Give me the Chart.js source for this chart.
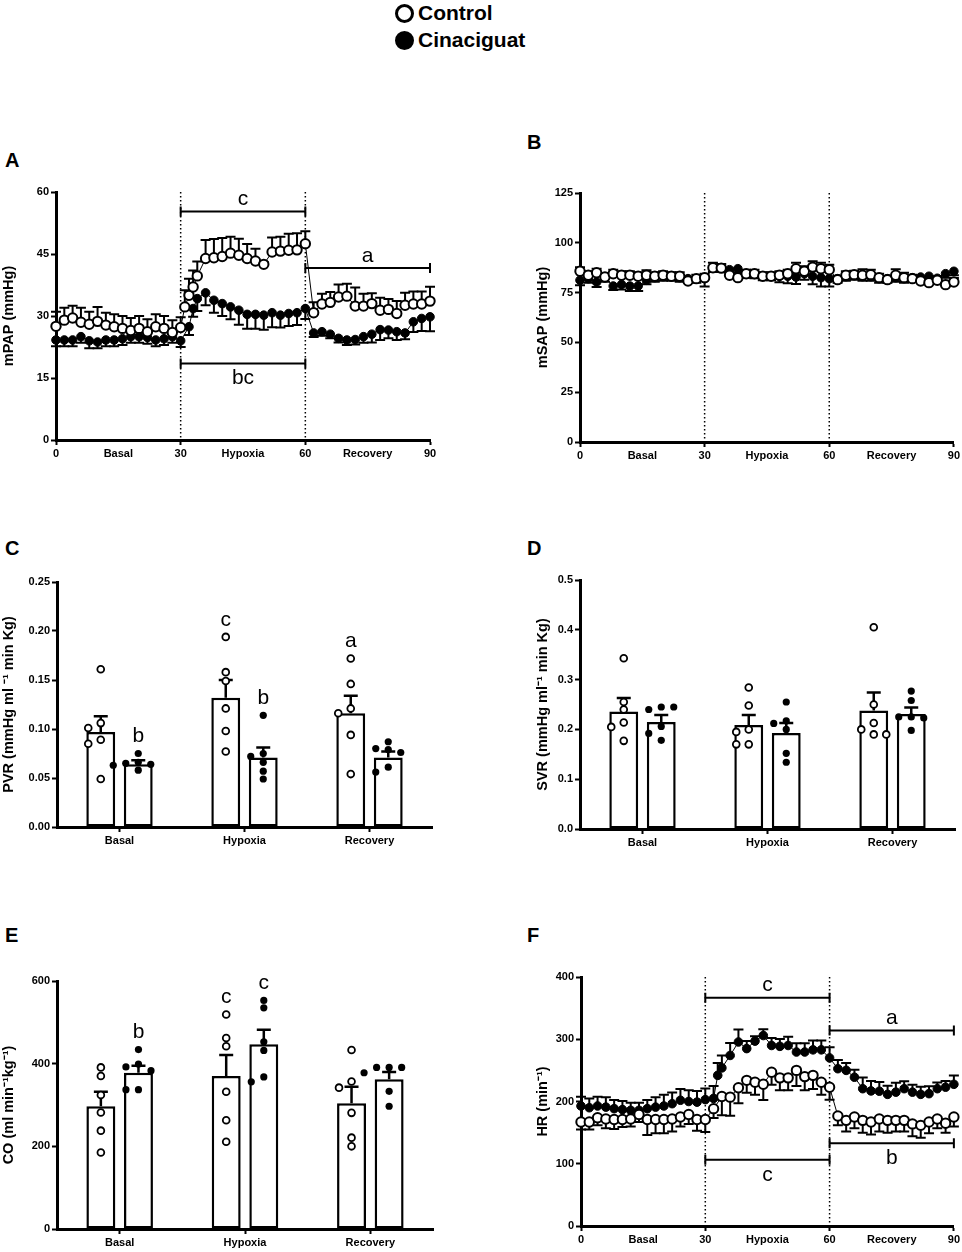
<!DOCTYPE html>
<html>
<head>
<meta charset="utf-8">
<script src="https://cdn.jsdelivr.net/npm/chart.js@4.4.0/dist/chart.umd.min.js"></script>
<style>
  body { margin: 0; width: 962px; height: 1252px; position: relative; background: #fff; overflow: hidden;
         font-family: Arial, "Liberation Sans", sans-serif; }
  canvas { position: absolute; }
  .panel { position: absolute; font-weight: bold; font-size: 20px; }
  .leg { position: absolute; left: 395px; height: 24px; display: flex; align-items: center;
         font-weight: bold; font-size: 21px; }
  .dot { width: 13px; height: 13px; border: 3px solid #000; border-radius: 50%; margin-right: 4px; }
</style>
</head>
<body>
<div class="leg" style="top:1px"><span class="dot"></span>Control</div>
<div class="leg" style="top:28px"><span class="dot" style="background:#000"></span>Cinaciguat</div>

<div class="panel" style="left:5px;top:149px">A</div>
<div class="panel" style="left:527px;top:131px">B</div>
<div class="panel" style="left:5px;top:537px">C</div>
<div class="panel" style="left:527px;top:537px">D</div>
<div class="panel" style="left:5px;top:924px">E</div>
<div class="panel" style="left:527px;top:924px">F</div>

<canvas id="chartA" width="460" height="290" style="left:0;top:180px"></canvas>
<canvas id="chartB" width="428" height="290" style="left:534px;top:180px"></canvas>
<canvas id="chartC" width="480" height="290" style="left:0;top:570px"></canvas>
<canvas id="chartD" width="428" height="290" style="left:534px;top:570px"></canvas>
<canvas id="chartE" width="480" height="292" style="left:0;top:960px"></canvas>
<canvas id="chartF" width="428" height="292" style="left:534px;top:960px"></canvas>

<script>
// ---- time course data (minutes) ----
const phaseTicks = [0, 15, 30, 45, 60, 75, 90];
const phaseLabels = ['0', 'Basal', '30', 'Hypoxia', '60', 'Recovery', '90'];

// A: mPAP
const timeA = [0,2,4,6,8,10,12,14,16,18,20,22,24,26,28,30,31,32,33,34,36,38,40,42,44,46,48,50,52,54,56,58,60,
               62,64,66,68,70,72,74,76,78,80,82,84,86,88,90];
const mpapCtrl = [27.5,29,29.5,28.5,28,28.7,27.8,27.4,27,26.5,27,26.2,27.4,27,26,27.2,
                  32.2,35,37,39.7,43.9,44.1,44.4,45.2,44.7,43.9,43.3,42.5,45.5,45.7,45.9,46,47.5,
                  30.8,32.9,33.3,34.6,34.8,32.4,32.4,33,31.4,31.6,30.6,32.6,32.9,32.9,33.6];
const mpapCtrlSem = [3.5,3,3,3.5,3,3.5,3,3,3,3,3,3,3,3,3,2.5,
                     4,4,4,3.5,4.5,4.5,4.5,4,4,3.5,3,0.5,3.5,3.5,4,4,3,
                     2.5,2.5,2.5,3,3,4.5,3,2.5,3,2.5,3,3,3,3,3.5];
const mpapCin = [24.2,24.2,24.2,25,24,23.7,24.2,24.2,24.5,25,25,24.8,24.2,24.5,25,24,
                 null,27.4,31.8,34.2,35.6,33.8,33,32.2,31.4,30.4,30.4,30.2,30.8,30.2,30.6,30.8,31.8,
                 25.9,26.2,25.6,24.6,24.2,24.3,25,25.6,26.7,26.6,26.2,25.9,28.6,29.4,29.8];
const mpapCinSem = [1.5,1.5,1.5,1.5,1.8,1.5,1.5,1.5,1.5,1.5,1.5,1.5,1.5,1.5,1.5,1.5,
                    null,2,2,3,3,3,3,3,3.5,3.5,3.5,3.5,3.5,3,3,3,2.5,
                    1,1,1,1,1.2,1.2,1.5,2,2.5,2,2,1.5,2.5,3,3.5];
const mpapSig = [
  { from: 30, to: 60, at: 55.3, text: 'c', side: 'up' },
  { from: 60, to: 90, at: 41.6, text: 'a', side: 'up' },
  { from: 30, to: 60, at: 18.5, text: 'bc', side: 'down' }
];

// B: mSAP
const timeB = [0,2,4,6,8,10,12,14,16,18,20,22,24,26,28,30,32,34,36,38,40,42,44,46,48,50,52,54,56,58,60,
               62,64,66,68,70,72,74,76,78,80,82,84,86,88,90];
const msapCtrl = [85.7,83.7,85,82.8,84.5,83.7,83.7,83.2,83.7,83.2,83.7,83.2,83.2,80.8,82,82.5,
                  87.5,87.3,83.7,82.5,84.5,84.5,83.2,83.2,83.7,84.5,87,85.7,87.8,87,86.5,
                  81.5,83.7,84,83.7,84,82.5,81.5,83.7,82.5,82,80.8,80,81.2,79,80.3];
const msapCtrlSem = [2,2,2,2,2,2,2,2,2.5,2,2,2,2,2,2,2,
                     2.5,2,2,2,2,2,2,2,2,2,3,2.5,3,3,2.5,
                     2,2,2,3,2.5,2,2,3,2.5,2,2,2,2,2,2];
const msapCin = [81.2,82,80.3,82.5,78.3,79.1,78.3,78.3,81.2,82.5,83,83,82.5,82,82,82,
                 87.3,87.3,86.5,87,84.5,84.2,83.2,83.2,83.2,83.2,82.8,84.5,83.2,82.5,82,
                 82,83,83.5,83,83,82,82,82.5,82,82.5,82.8,83.2,82.2,84.5,85.7];
const msapCinSem = [2.5,2,2.5,2,2,2.5,2.5,2.5,2,2,2,2,2,2,2,4,
                    2,2,2,2,2,2,2,2,3,3.5,3.5,3,4,4.5,4,
                    2,2,2,2,2,2,2,2,2,2,2,2,2,2,2];

// F: HR
const timeF = [0,2,4,6,8,10,12,14,16,18,20,22,24,26,28,30,32,33,34,36,38,40,42,44,46,48,50,52,54,56,58,60,
               62,64,66,68,70,72,74,76,78,80,82,84,86,88,90];
const hrCtrl = [167,167,174,172,171,171,172,179,171,171,171,172,175,179,171,171,
                188.5,null,208,207,222,234,231,227.6,247,238,238,250,240,242,231,223,
                176.7,169.7,175,169.7,167,172,169.7,169.7,169.7,164,161.7,167,172,165,175];
const hrCtrlSem = [12,12,12,15,15,12,12,12,25,22,22,20,15,15,18,20,
                   15,null,30,30,25,20,20,25,20,20,20,25,22,22,20,20,
                   15,18,18,20,20,20,20,18,18,20,20,18,15,15,15];
const hrCin = [192.8,190,192.8,191,188.5,187,185.8,185.8,188.5,191,192.8,196.5,202,200,199,203,
               205,242,254,274,295.6,285,297,306,290,288.6,290,279.5,279.5,283,283,270,
               252.7,250,239,220.6,217,216.5,211.5,215,220.6,215,211.5,212.6,220.6,223,227.6];
const hrCinSem = [15,15,15,16,14,14,12,12,14,16,18,18,18,18,18,18,
                  20,20,20,20,20,12,8,10,12,12,14,14,14,15,15,17,
                  14,12,12,18,16,15,14,15,12,12,12,12,10,10,14];
const hrSig = [
  { from: 30, to: 60, at: 366.8, text: 'c', side: 'up' },
  { from: 60, to: 90, at: 314, text: 'a', side: 'up' },
  { from: 30, to: 60, at: 106.5, text: 'c', side: 'down' },
  { from: 60, to: 90, at: 133, text: 'b', side: 'down' }
];

// ---- bar data ----
const groups = ['Basal', 'Hypoxia', 'Recovery'];

const pvrCtrl = [0.097, 0.132, 0.116];
const pvrCtrlSem = [0.016, 0.018, 0.018];
const pvrCtrlPts = [[0.161,0.106,0.101,0.089,0.085,0.049],[0.194,0.158,0.149,0.121,0.098,0.077],[0.172,0.146,0.121,0.116,0.094,0.054]];
const pvrCtrlSig = ['', 'c', 'a'];
const pvrCin = [0.064, 0.071, 0.071];
const pvrCinSem = [0.004, 0.010, 0.006];
const pvrCinPts = [[0.075,0.066,0.065,0.064,0.063,0.058],[0.114,0.075,0.072,0.066,0.057,0.049],[0.087,0.080,0.079,0.076,0.061,0.056]];
const pvrCinSig = ['b', 'b', ''];

const svrCtrl = [0.236, 0.209, 0.238];
const svrCtrlSem = [0.027, 0.020, 0.036];
const svrCtrlPts = [[0.343,0.255,0.240,0.214,0.205,0.177],[0.284,0.248,0.200,0.195,0.170,0.170],[0.405,0.250,0.213,0.200,0.190,0.190]];
const svrCin = [0.215, 0.193, 0.231];
const svrCinSem = [0.014, 0.020, 0.013];
const svrCinPts = [[0.245,0.240,0.245,0.206,0.192,0.178],[0.255,0.217,0.212,0.200,0.152,0.134],[0.277,0.258,0.225,0.225,0.223,0.198]];

const coCtrl = [297, 370, 304];
const coCtrlSem = [35, 51, 40];
const coCtrlPts = [[391,370,324,282,238,185],[519,462,442,332,263,211],[433,357,342,281,221,200]];
const coCtrlSig = ['', 'c', ''];
const coCin = [378, 447, 362];
const coCinSem = [17, 35, 18];
const coCinPts = [[434,399,392,383,337,337],[553,535,453,432,368,356],[391,391,391,378,333,297]];
const coCinSig = ['b', 'c', ''];

// ---- shared setup ----
Chart.defaults.font.family = 'Arial, "Liberation Sans", sans-serif';
Chart.defaults.color = '#000';
Chart.defaults.animation = false;

function pts(t, v) { return t.map((x, i) => ({ x: x, y: v[i] })); }

function drawErr(chart, meta, ds) {
  const ctx = chart.ctx, ys = chart.scales[meta.yAxisID];
  ctx.save();
  ctx.strokeStyle = '#000';
  ctx.lineWidth = ds.errWidth;
  meta.data.forEach((el, i) => {
    const d = ds.data[i];
    const v = (d && typeof d === 'object') ? d.y : d;
    const e = ds.err[i];
    if (v == null || e == null) return;
    const y0 = ys.getPixelForValue(v), y1 = ys.getPixelForValue(v + ds.errDir * e);
    ctx.beginPath();
    ctx.moveTo(el.x, y0); ctx.lineTo(el.x, y1);
    ctx.moveTo(el.x - ds.cap, y1); ctx.lineTo(el.x + ds.cap, y1);
    ctx.stroke();
  });
  ctx.restore();
}

const errPlugin = {
  id: 'errbars',
  beforeDatasetDraw(chart, args) {
    const ds = chart.data.datasets[args.index];
    if (ds.err && args.meta.type === 'line') drawErr(chart, args.meta, ds);
  },
  afterDatasetDraw(chart, args) {
    const ds = chart.data.datasets[args.index];
    if (ds.err && args.meta.type === 'bar') drawErr(chart, args.meta, ds);
  }
};

function marks(vlines, sig) {
  return {
    id: 'marks',
    beforeDatasetsDraw(chart) {
      const { ctx, chartArea: a, scales: { x } } = chart;
      ctx.save();
      ctx.strokeStyle = '#000';
      ctx.lineWidth = 1.5;
      ctx.setLineDash([1.5, 2.5]);
      vlines.forEach(v => {
        const px = x.getPixelForValue(v);
        ctx.beginPath(); ctx.moveTo(px, a.top); ctx.lineTo(px, a.bottom); ctx.stroke();
      });
      ctx.restore();
    },
    afterDatasetsDraw(chart) {
      const { ctx, scales: { x, y } } = chart;
      ctx.save();
      ctx.strokeStyle = '#000';
      ctx.fillStyle = '#000';
      ctx.lineWidth = 2;
      ctx.font = '21px Arial, "Liberation Sans", sans-serif';
      ctx.textAlign = 'center';
      ctx.textBaseline = 'middle';
      sig.forEach(s => {
        const x0 = x.getPixelForValue(s.from), x1 = x.getPixelForValue(s.to), py = y.getPixelForValue(s.at);
        ctx.beginPath();
        ctx.moveTo(x0, py); ctx.lineTo(x1, py);
        ctx.moveTo(x0, py - 5); ctx.lineTo(x0, py + 5);
        ctx.moveTo(x1, py - 5); ctx.lineTo(x1, py + 5);
        ctx.stroke();
        ctx.fillText(s.text, (x0 + x1) / 2, s.side === 'up' ? py - 12 : py + 15);
      });
      ctx.restore();
    }
  };
}

function axisY(o) {
  return {
    min: 0, max: o.max,
    afterFit: s => { s.width = o.yW; },
    ticks: { stepSize: o.step, font: { size: 11, weight: 'bold' }, padding: 2,
             callback: v => o.dec != null ? Number(v).toFixed(o.dec) : v },
    title: { display: true, text: o.title, font: { size: 14.5, weight: 'bold' }, padding: { top: 0, bottom: 2 } },
    grid: { drawOnChartArea: false, tickLength: 5, tickWidth: 2, tickColor: '#000' },
    border: { color: '#000', width: 3 }
  };
}

function timeChart(id, o) {
  const line = { showLine: true, borderColor: '#000', borderWidth: 1, spanGaps: true, clip: false,
                 pointStyle: 'circle', pointBorderColor: '#000', errWidth: 2, cap: 5 };
  new Chart(document.getElementById(id), {
    type: 'line',
    data: {
      datasets: [
        Object.assign({ label: 'Cinaciguat', data: pts(o.t, o.cin), err: o.cinSem, errDir: o.cinDir, order: 2,
                        pointRadius: 4.3, pointBorderWidth: 1, pointBackgroundColor: '#000' }, line),
        Object.assign({ label: 'Control', data: pts(o.t, o.ctrl), err: o.ctrlSem, errDir: o.ctrlDir, order: 1,
                        pointRadius: 4.7, pointBorderWidth: 2, pointBackgroundColor: '#fff' }, line)
      ]
    },
    options: {
      responsive: false,
      layout: { padding: { top: o.padTop, right: o.padRight, left: 0, bottom: 0 } },
      plugins: { legend: { display: false }, tooltip: { enabled: false } },
      scales: {
        x: {
          type: 'linear', min: 0, max: 90,
          afterBuildTicks: s => { s.ticks = phaseTicks.map(v => ({ value: v })); },
          afterFit: s => { s.height = o.xH; },
          ticks: { autoSkip: false, maxRotation: 0, font: { size: 11, weight: 'bold' }, padding: 2,
                   callback: v => phaseLabels[phaseTicks.indexOf(v)] },
          grid: { drawOnChartArea: false, tickLength: 5, tickWidth: 2,
                  tickColor: c => (c.tick && c.tick.value % 30 === 0) ? '#000' : 'rgba(0,0,0,0)' },
          border: { color: '#000', width: 3 }
        },
        y: axisY(o)
      }
    },
    plugins: [errPlugin, marks([30, 60], o.sig || [])]
  });
}

// spread overlapping dots sideways, like a column scatter
function swarm(vals, range) {
  const placed = [];
  const offs = [0, -0.1, 0.1, -0.2, 0.2];
  return vals.map(v => {
    for (const off of offs) {
      if (!placed.some(p => Math.abs(p.o - off) < 0.08 && Math.abs(p.v - v) < 0.03 * range)) {
        placed.push({ o: off, v: v });
        return off;
      }
    }
    return 0;
  });
}

function barChart(id, o) {
  // bars and dots share one linear x axis: group i sits at x = i, series at +/- 0.15
  const shift = [-0.15, 0.15];
  const barPts = (vals, k) => vals.map((v, gi) => ({ x: gi + shift[k], y: v }));
  const dots = (P, k) => P.flatMap((vals, gi) => {
    const offs = swarm(vals, o.max);
    return vals.map((v, j) => ({ x: gi + shift[k] + offs[j], y: v }));
  });
  const bar = { type: 'bar', grouped: false, backgroundColor: '#fff', borderColor: '#000', borderWidth: 2.5,
                borderSkipped: false, categoryPercentage: 1, barPercentage: 0.77, maxBarThickness: 29,
                errDir: 1, errWidth: 2.5, cap: 7, order: 3 };
  const sets = [[o.ctrl, o.ctrlSem, o.ctrlSig, o.ctrlPts], [o.cin, o.cinSem, o.cinSig, o.cinPts]];

  const letters = {
    id: 'letters',
    afterDatasetsDraw(chart) {
      const ctx = chart.ctx, y = chart.scales.y;
      ctx.save();
      ctx.fillStyle = '#000';
      ctx.font = '21px Arial, "Liberation Sans", sans-serif';
      ctx.textAlign = 'center';
      ctx.textBaseline = 'middle';
      sets.forEach((s, k) => {
        if (!s[2]) return;
        const meta = chart.getDatasetMeta(k);
        s[2].forEach((txt, gi) => {
          if (!txt) return;
          const top = Math.max.apply(null, s[3][gi]);
          ctx.fillText(txt, meta.data[gi].x, y.getPixelForValue(top) - 17);
        });
      });
      ctx.restore();
    }
  };

  new Chart(document.getElementById(id), {
    type: 'bar',
    data: {
      datasets: [
        Object.assign({ label: 'Control', data: barPts(o.ctrl, 0), err: o.ctrlSem }, bar),
        Object.assign({ label: 'Cinaciguat', data: barPts(o.cin, 1), err: o.cinSem }, bar),
        { type: 'scatter', label: 'Control', data: dots(o.ctrlPts, 0), order: 1, clip: false,
          pointRadius: 3.4, pointBorderWidth: 1.8, pointBackgroundColor: '#fff', pointBorderColor: '#000' },
        { type: 'scatter', label: 'Cinaciguat', data: dots(o.cinPts, 1), order: 1, clip: false,
          pointRadius: 3.6, pointBorderWidth: 0, pointBackgroundColor: '#000', pointBorderColor: '#000' }
      ]
    },
    options: {
      responsive: false,
      layout: { padding: { top: o.padTop, right: o.padRight, left: 0, bottom: 0 } },
      plugins: { legend: { display: false }, tooltip: { enabled: false } },
      scales: {
        x: {
          type: 'linear', offset: false, min: -0.5, max: 2.5,
          afterBuildTicks: s => { s.ticks = groups.map((g, i) => ({ value: i })); },
          afterFit: s => { s.height = o.xH; },
          ticks: { autoSkip: false, font: { size: 11, weight: 'bold' }, padding: 2, maxRotation: 0,
                   callback: v => groups[v] },
          grid: { offset: false, drawOnChartArea: false, tickLength: 5, tickWidth: 2, tickColor: '#000' },
          border: { color: '#000', width: 3 }
        },
        y: axisY(o)
      }
    },
    plugins: [errPlugin, letters]
  });
}

timeChart('chartA', { t: timeA, ctrl: mpapCtrl, ctrlSem: mpapCtrlSem, ctrlDir: 1, cin: mpapCin, cinSem: mpapCinSem, cinDir: -1,
  sig: mpapSig, max: 60, step: 15, title: 'mPAP (mmHg)', yW: 56, xH: 30, padTop: 12, padRight: 30 });

timeChart('chartB', { t: timeB, ctrl: msapCtrl, ctrlSem: msapCtrlSem, ctrlDir: 1, cin: msapCin, cinSem: msapCinSem, cinDir: -1,
  sig: [], max: 125, step: 25, title: 'mSAP (mmHg)', yW: 46, xH: 28, padTop: 13, padRight: 8 });

barChart('chartC', { ctrl: pvrCtrl, ctrlSem: pvrCtrlSem, ctrlPts: pvrCtrlPts, ctrlSig: pvrCtrlSig,
  cin: pvrCin, cinSem: pvrCinSem, cinPts: pvrCinPts, cinSig: pvrCinSig,
  max: 0.25, step: 0.05, dec: 2, title: 'PVR (mmHg ml \u207B\u00B9 min Kg)', yW: 57, xH: 33, padTop: 12, padRight: 48 });

barChart('chartD', { ctrl: svrCtrl, ctrlSem: svrCtrlSem, ctrlPts: svrCtrlPts, ctrlSig: null,
  cin: svrCin, cinSem: svrCinSem, cinPts: svrCinPts, cinSig: null,
  max: 0.5, step: 0.1, dec: 1, title: 'SVR (mmHg ml\u207B\u00B9 min Kg)', yW: 46, xH: 31, padTop: 10, padRight: 7 });

barChart('chartE', { ctrl: coCtrl, ctrlSem: coCtrlSem, ctrlPts: coCtrlPts, ctrlSig: coCtrlSig,
  cin: coCin, cinSem: coCinSem, cinPts: coCinPts, cinSig: coCinSig,
  max: 600, step: 200, title: 'CO (ml min\u207B\u00B9kg\u207B\u00B9)', yW: 57, xH: 23, padTop: 21, padRight: 47 });

timeChart('chartF', { t: timeF, ctrl: hrCtrl, ctrlSem: hrCtrlSem, ctrlDir: -1, cin: hrCin, cinSem: hrCinSem, cinDir: 1,
  sig: hrSig, max: 400, step: 100, title: 'HR (min\u207B\u00B9)', yW: 47, xH: 26, padTop: 17, padRight: 8 });
</script>
</body>
</html>
